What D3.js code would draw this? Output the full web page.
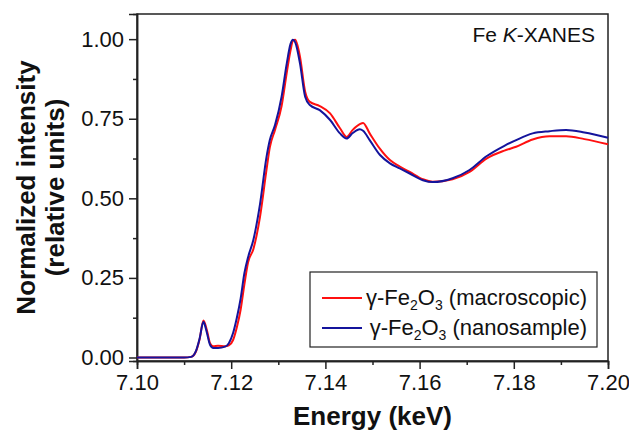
<!DOCTYPE html>
<html>
<head>
<meta charset="utf-8">
<script src="https://cdn.jsdelivr.net/npm/d3@7"></script>
<style>
  body { margin: 0; background: #fff; }
  svg text { font-family: Arial, "Liberation Sans", sans-serif; fill: #111; }
</style>
</head>
<body>
<svg id="chart" width="629" height="432"></svg>
<script>
// energy grid (keV) shared by both spectra
var energy = [7.1000, 7.1100, 7.1115, 7.1125, 7.1133, 7.1141, 7.1148, 7.1155, 7.1162, 7.1172,
  7.1187, 7.1195, 7.1204, 7.1212, 7.1220, 7.1228, 7.1236, 7.1247, 7.1261, 7.1275,
  7.1282, 7.1293, 7.1307, 7.1318, 7.1326, 7.1331, 7.1336, 7.1346, 7.1357, 7.1367,
  7.1388, 7.1410, 7.1431, 7.1445, 7.1458, 7.1473, 7.1480, 7.1494, 7.1516, 7.1537,
  7.1558, 7.1579, 7.1607, 7.1628, 7.1670, 7.1706, 7.1742, 7.1780, 7.1805, 7.1840,
  7.1876, 7.1911, 7.1950, 7.2000];

// gamma-Fe2O3 macroscopic
var macroValues = [0.000, 0.000, 0.002, 0.018, 0.058, 0.116, 0.088, 0.045, 0.035, 0.037,
  0.035, 0.038, 0.055, 0.095, 0.150, 0.230, 0.300, 0.340, 0.440, 0.590,
  0.660, 0.715, 0.790, 0.895, 0.965, 0.995, 0.998, 0.945, 0.835, 0.803,
  0.790, 0.767, 0.720, 0.693, 0.715, 0.733, 0.737, 0.704, 0.655, 0.620,
  0.600, 0.583, 0.560, 0.552, 0.560, 0.583, 0.625, 0.650, 0.662, 0.685,
  0.695, 0.695, 0.686, 0.670];

// gamma-Fe2O3 nanosample
var nanoValues = [0.000, 0.000, 0.002, 0.020, 0.060, 0.112, 0.080, 0.040, 0.030, 0.030,
  0.034, 0.045, 0.077, 0.125, 0.185, 0.265, 0.316, 0.369, 0.480, 0.630,
  0.683, 0.730, 0.819, 0.924, 0.985, 0.998, 0.990, 0.924, 0.819, 0.793,
  0.777, 0.746, 0.704, 0.688, 0.705, 0.717, 0.712, 0.683, 0.636, 0.610,
  0.594, 0.578, 0.557, 0.551, 0.563, 0.589, 0.632, 0.665, 0.683, 0.704,
  0.711, 0.715, 0.707, 0.690];

var xTicks = [7.10, 7.12, 7.14, 7.16, 7.18, 7.20];
var xMinor = [7.11, 7.13, 7.15, 7.17, 7.19];
var yTicks = [0, 0.25, 0.5, 0.75, 1.0];
var yMinor = [0.125, 0.375, 0.625, 0.875];

var seriesNames = ["macroscopic", "nanosample"];
var seriesColors = ["#ff1010", "#14149c"];

function drawChart() {
  var svg = d3.select("#chart");
  var mLeft = 137, mRight = 608, mTop = 14, mBottom = 361;

  var x = d3.scaleLinear().domain([7.10, 7.20]).range([mLeft, mRight]);
  var y = d3.scaleLinear().domain([-0.011, 1.079]).range([mBottom, mTop]);

  // frame
  svg.append("rect")
      .attr("x", mLeft).attr("y", mTop)
      .attr("width", mRight - mLeft).attr("height", mBottom - mTop)
      .attr("fill", "none")
      .attr("stroke", "#222")
      .attr("stroke-width", 1.5);

  // axes
  svg.append("g")
      .attr("transform", "translate(0," + mBottom + ")")
      .call(d3.axisBottom(x).tickValues(xTicks).tickFormat(d3.format(".2f")).tickSize(8).tickPadding(5));
  svg.append("g")
      .attr("transform", "translate(0," + mBottom + ")")
      .call(d3.axisBottom(x).tickValues(xMinor).tickFormat("").tickSize(4));

  svg.append("g")
      .attr("transform", "translate(" + mLeft + ",0)")
      .call(d3.axisLeft(y).tickValues(yTicks).tickFormat(d3.format(".2f")).tickSize(8).tickPadding(5));
  svg.append("g")
      .attr("transform", "translate(" + mLeft + ",0)")
      .call(d3.axisLeft(y).tickValues(yMinor).tickFormat("").tickSize(4));

  svg.selectAll(".domain").attr("stroke", "#222").attr("stroke-width", 1.5);
  svg.selectAll(".tick line").attr("stroke", "#222").attr("stroke-width", 1.5);
  svg.selectAll(".tick text")
      .attr("font-size", 22)
      .attr("font-family", "Arial, 'Liberation Sans', sans-serif")
      .attr("fill", "#111");

  // curves
  var line = d3.line()
      .x(function(d) { return x(d[0]); })
      .y(function(d) { return y(d[1]); })
      .curve(d3.curveMonotoneX);

  [macroValues, nanoValues].forEach(function(vals, i) {
    var pts = energy.map(function(e, j) { return [e, vals[j]]; });
    svg.append("path")
        .datum(pts)
        .attr("d", line)
        .attr("fill", "none")
        .attr("stroke", seriesColors[i])
        .attr("stroke-width", 2);
  });

  // axis titles
  svg.append("text")
      .attr("x", (mLeft + mRight) / 2)
      .attr("y", 425)
      .attr("text-anchor", "middle")
      .attr("font-size", 26)
      .attr("font-weight", "bold")
      .text("Energy (keV)");

  var yTitle = svg.append("text")
      .attr("transform", "translate(35," + (mTop + mBottom) / 2 + ") rotate(-90)")
      .attr("text-anchor", "middle")
      .attr("font-size", 26)
      .attr("font-weight", "bold");
  yTitle.append("tspan").attr("x", 0).attr("y", 0).text("Normalized intensity");
  yTitle.append("tspan").attr("x", 0).attr("y", 29).text("(relative units)");

  // annotation
  var note = svg.append("text")
      .attr("x", 595)
      .attr("y", 42)
      .attr("text-anchor", "end")
      .attr("font-size", 21);
  note.append("tspan").text("Fe ");
  note.append("tspan").attr("font-style", "italic").text("K");
  note.append("tspan").text("-XANES");

  // legend
  var legend = svg.append("g");
  legend.append("rect")
      .attr("x", 310).attr("y", 272)
      .attr("width", 287).attr("height", 75)
      .attr("fill", "#fff")
      .attr("stroke", "#222")
      .attr("stroke-width", 1.2);

  seriesNames.forEach(function(name, i) {
    var ly = 298 + i * 30;
    legend.append("line")
        .attr("x1", 322).attr("x2", 362)
        .attr("y1", ly).attr("y2", ly)
        .attr("stroke", seriesColors[i])
        .attr("stroke-width", 2);
    var t = legend.append("text")
        .attr("x", 587)
        .attr("y", ly + 7)
        .attr("text-anchor", "end")
        .attr("font-size", 22);
    t.append("tspan").text("\u03b3-Fe");
    t.append("tspan").attr("font-size", 14).attr("dy", 5).text("2");
    t.append("tspan").attr("dy", -5).text("O");
    t.append("tspan").attr("font-size", 14).attr("dy", 5).text("3");
    t.append("tspan").attr("dy", -5).text(" (" + name + ")");
  });
}

drawChart();
</script>
</body>
</html>
